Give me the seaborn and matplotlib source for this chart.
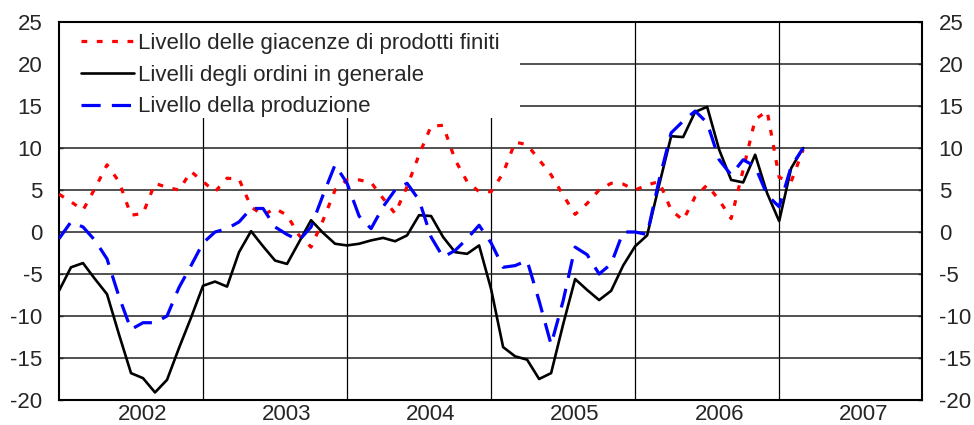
import numpy as np
import pandas as pd
import matplotlib
matplotlib.use("Agg")
import matplotlib.pyplot as plt
from matplotlib.patches import Rectangle
import seaborn as sns

# Dati mensili, da gennaio 2002 a marzo 2007
giacenze = [4.5, 3.6, 2.6, 5.2, 8.0, 6.0, 2.0, 2.2, 5.8, 5.3, 5.0, 7.2,
            6.0, 4.8, 6.4, 6.3, 3.0, 2.0, 2.8, 2.0, -0.4, -1.8, 1.4, 5.0,
            6.2, 6.2, 5.9, 4.0, 2.2, 5.4, 9.2, 12.6, 12.7, 8.6, 6.0, 4.8,
            4.8, 7.0, 10.7, 10.4, 8.6, 6.8, 4.4, 2.1, 3.4, 5.0, 5.8, 5.7,
            5.0, 5.6, 6.0, 2.6, 1.4, 4.2, 5.6, 3.8, 1.6, 7.4, 13.4, 14.4,
            6.5, 6.0, 9.8]
ordini = [-7.0, -4.2, -3.7, -5.6, -7.4, -12.2, -16.8, -17.4, -19.1, -17.6, -13.8, -10.2,
          -6.4, -5.9, -6.5, -2.4, 0.1, -1.7, -3.4, -3.8, -1.2, 1.4, -0.1, -1.4,
          -1.6, -1.4, -1.0, -0.7, -1.1, -0.4, 2.0, 1.9, -0.6, -2.4, -2.6, -1.6,
          -6.8, -13.7, -14.8, -15.2, -17.5, -16.8, -11.0, -5.6, -6.9, -8.1, -7.0, -4.0,
          -1.7, -0.4, 5.6, 11.4, 11.3, 14.3, 14.9, 9.8, 6.2, 5.9, 9.2, 4.6,
          1.3, 7.6, 10.0]
produzione = [-0.8, 1.2, 0.6, -1.0, -3.2, -7.7, -11.6, -10.8, -10.8, -10.0, -6.6, -4.0,
              -1.3, 0.0, 0.4, 1.2, 2.8, 2.8, 0.6, -0.3, -1.0, 0.6, 4.4, 8.0,
              5.8, 1.9, 0.4, 3.0, 5.0, 5.8, 3.8, -0.6, -3.0, -2.2, -0.8, 0.8,
              -1.3, -4.2, -4.0, -3.4, -8.2, -13.4, -8.2, -1.8, -2.7, -5.0, -3.8, 0.0,
              0.0, -0.3, 6.2, 11.8, 13.2, 14.4, 13.0, 8.6, 6.8, 8.6, 7.8, 4.4,
              3.0, 7.8, 10.0]
months = np.arange(len(ordini))

anni = ["2002", "2003", "2004", "2005", "2006", "2007"]
y_ticks = list(range(-20, 30, 5))

labels = ["Livello delle giacenze di prodotti finiti",
          "Livelli degli ordini in generale",
          "Livello della produzione"]

df = pd.DataFrame({"mese": months, "giacenze": giacenze,
                   "ordini": ordini, "produzione": produzione})

sns.set_style("white")
plt.rcParams['font.family'] = ['Liberation Sans', 'DejaVu Sans']
plt.rcParams['font.size'] = 16

fig = plt.figure(figsize=(9.74, 4.25), dpi=100)
ax = fig.add_axes([59 / 974, 25 / 425, 863 / 974, 378 / 425])

sns.lineplot(data=df, x="mese", y="giacenze", ax=ax, color="#ff0000",
             lw=2.3, linestyle=(0, (1.8, 3)), dash_capstyle="butt", label=labels[0], zorder=4)
sns.lineplot(data=df, x="mese", y="ordini", ax=ax, color="black",
             lw=1.9, label=labels[1], zorder=4)
sns.lineplot(data=df, x="mese", y="produzione", ax=ax, color="#0000ff",
             lw=2.3, linestyle=(0, (6, 3.5)), dash_capstyle="butt", label=labels[2], zorder=4)

ax.set_xlim(0, 71.9)
ax.set_ylim(-20, 25)
ax.set_xlabel("")
ax.set_ylabel("")

# anni al centro, confini dell'anno come griglia minore
ax.set_xticks([7 + 12 * k for k in range(len(anni))])
ax.set_xticklabels(anni)
ax.set_xticks([12 * k for k in range(1, len(anni))], minor=True)
ax.set_yticks(y_ticks)
ax.set_yticklabels([str(v) for v in y_ticks])

ax.tick_params(axis="x", which="both", length=0, pad=3, labelsize=16)
ax.tick_params(axis="y", which="major", direction="in", length=3, width=1,
               left=True, right=True, labelleft=True, labelright=True,
               pad=12, labelsize=16)

ax.grid(axis="y", which="major", color="#222222", lw=1.1, zorder=1)
ax.grid(axis="x", which="minor", color="black", lw=0.9, zorder=1)
ax.grid(axis="x", which="major", visible=False)
ax.set_axisbelow(True)

for s in ax.spines.values():
    s.set_visible(True)
    s.set_color("black")
    s.set_linewidth(1.5)

# fondo bianco dietro la legenda
ax.add_patch(Rectangle((0, 0.746), 0.534, 0.254, transform=ax.transAxes,
                       facecolor="white", edgecolor="none", zorder=2))

leg = ax.legend(loc="upper left", bbox_to_anchor=(0.008, 1.012), frameon=False,
                fontsize=16, handlelength=2.35, handletextpad=0.2,
                labelspacing=0.48, borderpad=0.2)
leg.set_zorder(5)

fig.savefig("out.png", dpi=100)
